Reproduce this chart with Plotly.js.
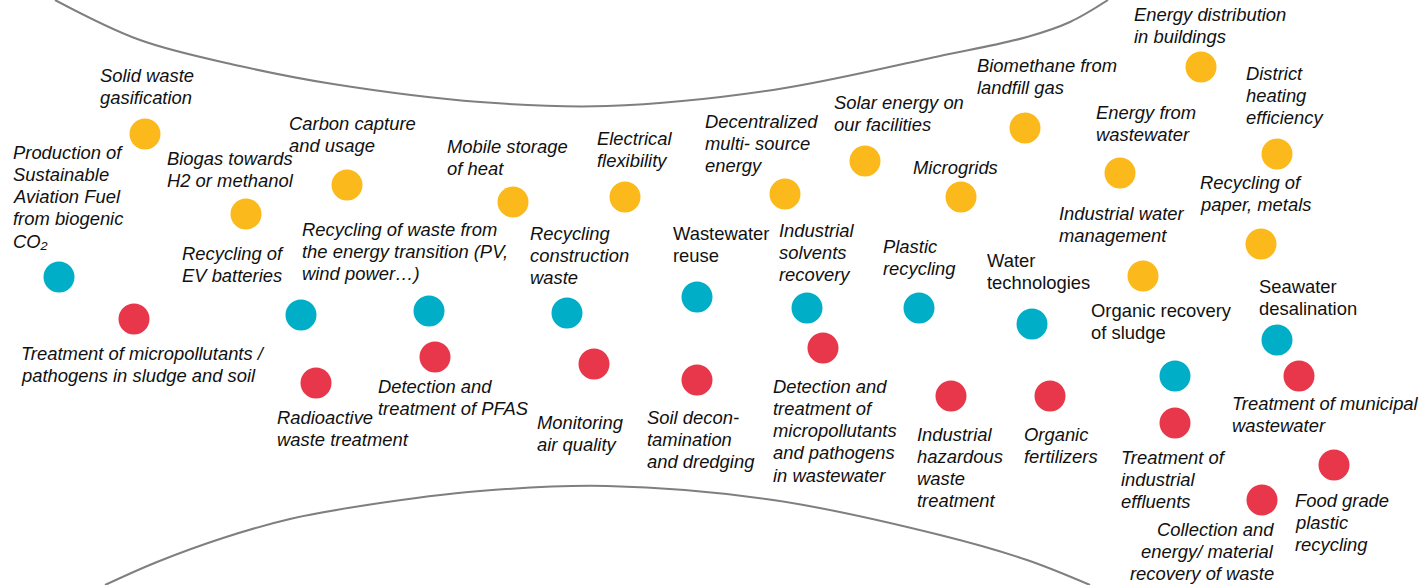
<!DOCTYPE html>
<html>
<head>
<meta charset="utf-8">
<script src="https://cdn.plot.ly/plotly-3.0.1.min.js"></script>
<style>html,body{margin:0;padding:0;background:#fff;}#chart{width:1423px;height:585px;}</style>
</head>
<body>
<div id="chart"></div>
<script>
// ---- Data ----
const orangeLabels = [
  "Solid waste\ngasification",
  "Biogas towards\nH2 or methanol",
  "Carbon capture\nand usage",
  "Mobile storage\nof heat",
  "Electrical\nflexibility",
  "Decentralized\nmulti- source\nenergy",
  "Solar energy on\nour facilities",
  "Biomethane from\nlandfill gas",
  "Microgrids",
  "Energy distribution\nin buildings",
  "Energy from\nwastewater",
  "District\nheating\nefficiency",
  "Recycling of\npaper, metals",
  "Industrial water\nmanagement"
];
const orangeX = [145, 246, 347, 513, 625, 785, 865, 1025, 961, 1201, 1120, 1277, 1261, 1143];
const orangeY = [134, 214, 185, 202, 197, 194, 161, 128, 197, 67, 173, 154, 244, 276];

const tealLabels = [
  "Production of\nSustainable\nAviation Fuel\nfrom biogenic\nCO₂",
  "Recycling of\nEV batteries",
  "Recycling of waste from\nthe energy transition (PV,\nwind power…)",
  "Recycling\nconstruction\nwaste",
  "Wastewater\nreuse",
  "Industrial\nsolvents\nrecovery",
  "Plastic\nrecycling",
  "Water\ntechnologies",
  "Organic recovery\nof sludge",
  "Seawater\ndesalination"
];
const tealX = [59, 301, 429, 567, 697, 807, 919, 1032, 1175, 1277];
const tealY = [277, 315, 311, 313, 297, 308, 308, 324, 376, 340];

const redLabels = [
  "Treatment of micropollutants /\npathogens in sludge and soil",
  "Radioactive\nwaste treatment",
  "Detection and\ntreatment of PFAS",
  "Monitoring\nair quality",
  "Soil decon-\ntamination\nand dredging",
  "Detection and\ntreatment of\nmicropollutants\nand pathogens\nin wastewater",
  "Industrial\nhazardous\nwaste\ntreatment",
  "Organic\nfertilizers",
  "Treatment of\nindustrial\neffluents",
  "Treatment of municipal\nwastewater",
  "Food grade\nplastic\nrecycling",
  "Collection and\nenergy/ material\nrecovery of waste"
];
const redX = [134, 316, 435, 594, 697, 823, 951, 1050, 1175, 1299, 1334, 1262];
const redY = [319, 383, 357, 364, 380, 348, 396, 396, 423, 376, 465, 500];

// decorative arcs
const arcTopX = [55, 140, 240, 333, 480, 607, 773, 940, 1027, 1070, 1108];
const arcTopY = [0, 40, 66, 84, 102, 106, 90, 56, 37, 22, 0];
const arcBotX = [105, 157, 223, 290, 367, 480, 607, 773, 940, 1027, 1090];
const arcBotY = [585, 562, 538, 519, 505, 491, 486, 500, 535, 560, 585];

// ---- Layout / style (label placement) ----
const orangeLabelPos = [[99,75],[166,158],[288,123],[446,146],[596,138],[704,121],[833,102],[976,65],[912,167],[1133,14],[1095,112],[1245,73],[1199,182],[1058,213]];
const tealLabelPos = [[12,152],[181,253],[301,229],[529,233],[672,233],[778,230],[882,246],[986,260],[1090,310],[1258,286]];
const tealItalic = [true,true,true,true,false,true,true,false,false,false];
const redLabelPos = [[20,353],[276,417],[377,386],[536,422],[646,417],[772,386],[916,434],[1023,434],[1120,457],[1231,403],[1294,500],[1275,529]];
const redAnchor = ['left','left','left','left','left','left','left','left','left','left','left','right'];

const COLORS = {orange:'#FBB91B', teal:'#00AEC7', red:'#E8374A'};
const FONT = {family:'"Liberation Sans", Arial, sans-serif', size:18.4, color:'#111111'};
const LINE_GAP = 22.3;

const annotations = [];
function addLabel(text, pos, italic, anchor){
  const lines = text.split('\n');
  lines.forEach((ln, i) => {
    annotations.push({
      x: pos[0], y: pos[1] + i*LINE_GAP,
      xref:'x', yref:'y',
      text: italic ? '<i>' + ln + '</i>' : ln,
      showarrow:false, xanchor: anchor || 'left', yanchor:'middle',
      align: anchor || 'left', borderpad:0,
      font: FONT
    });
  });
}
orangeLabels.forEach((t,i)=>addLabel(t, orangeLabelPos[i], true, 'left'));
tealLabels.forEach((t,i)=>addLabel(t, tealLabelPos[i], tealItalic[i], 'left'));
redLabels.forEach((t,i)=>addLabel(t, redLabelPos[i], true, redAnchor[i]));

const arcLine = {color:'#7F7F7F', width:2, shape:'spline', smoothing:1};
const traces = [
  {x:arcTopX, y:arcTopY, mode:'lines', line:arcLine, hoverinfo:'skip', showlegend:false},
  {x:arcBotX, y:arcBotY, mode:'lines', line:arcLine, hoverinfo:'skip', showlegend:false},
  {x:orangeX, y:orangeY, mode:'markers', name:'Energy', hoverinfo:'skip',
   marker:{size:31, color:COLORS.orange, line:{width:0}}, showlegend:false},
  {x:tealX, y:tealY, mode:'markers', name:'Recycling / water', hoverinfo:'skip',
   marker:{size:31, color:COLORS.teal, line:{width:0}}, showlegend:false},
  {x:redX, y:redY, mode:'markers', name:'Treatment', hoverinfo:'skip',
   marker:{size:31, color:COLORS.red, line:{width:0}}, showlegend:false}
];

const layout = {
  width:1423, height:585,
  margin:{l:0, r:0, t:0, b:0, pad:0},
  paper_bgcolor:'#ffffff', plot_bgcolor:'#ffffff',
  xaxis:{range:[0,1423], visible:false, fixedrange:true},
  yaxis:{range:[585,0], visible:false, fixedrange:true},
  annotations: annotations,
  showlegend:false,
  font: FONT
};
Plotly.newPlot('chart', traces, layout, {displayModeBar:false, staticPlot:true});
</script>
</body>
</html>
